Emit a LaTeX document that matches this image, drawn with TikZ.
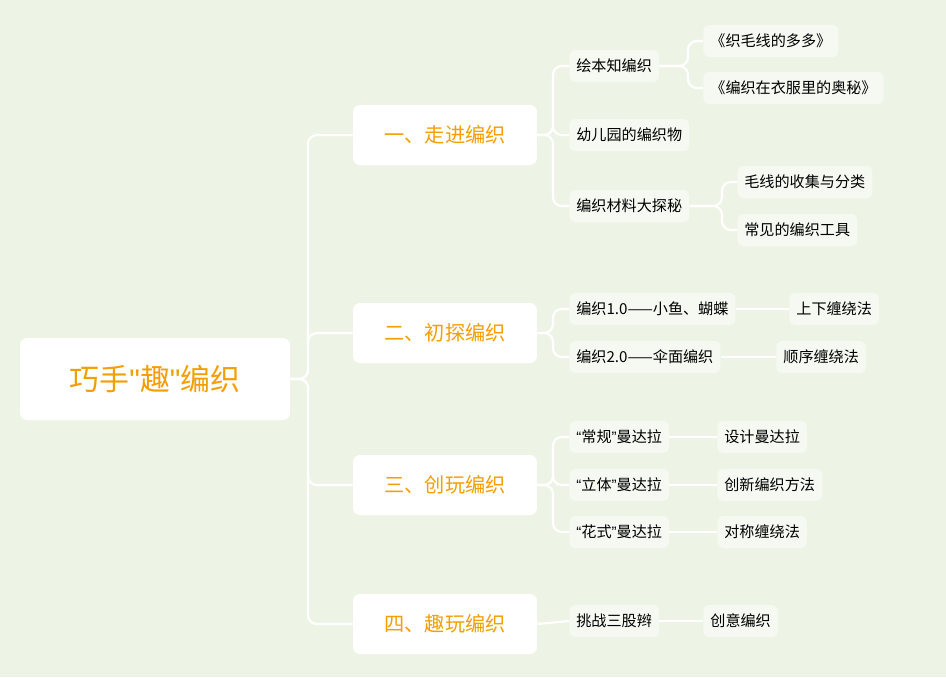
\documentclass[tikz,border=0pt]{standalone}
\usepackage{fontspec}
\setmainfont{Noto Sans CJK SC}
\newfontfamily\latinfont{Liberation Sans}
\usetikzlibrary{positioning}
\definecolor{bgGreen}{HTML}{EDF4E6}
\definecolor{boxGreen}{HTML}{F5F9F1}
\definecolor{titleOrange}{HTML}{F59E00}
\newcommand{\openq}{{\latinfont “}}
\newcommand{\closeq}{{\latinfont ”}}

\begin{document}
\begin{tikzpicture}[
    x=0.02cm, y=-0.02cm,
    root/.style={fill=white, rounded corners=4pt, minimum width=5.4cm, minimum height=1.64cm,
        text=titleOrange, font=\fontsize{17}{20}\selectfont},
    topic/.style={fill=white, rounded corners=4pt, minimum width=3.68cm, minimum height=1.2cm,
        text=titleOrange, font=\fontsize{11.5}{14}\selectfont},
    leaf/.style={fill=boxGreen, rounded corners=3pt, minimum height=0.64cm, inner xsep=4pt,
        anchor=west, font=\fontsize{8.6}{10}\selectfont},
    link/.style={draw=white, line width=1.2pt, rounded corners=5pt}
]
\fill[bgGreen] (0,0) rectangle (946,677);

% root and main branches
\node[root] (root) at (155,379) {巧手{\latinfont"}趣{\latinfont"}编织};
\node[topic] (walk) at (445,135) {一、走进编织};
\node[topic] (probe) at (445,333) {二、初探编织};
\node[topic] (play) at (445,485) {三、创玩编织};
\node[topic] (fun) at (445,624) {四、趣玩编织};

% second level
\node[leaf] (book) at (569,66) {绘本知编织};
\node[leaf] (kinder) at (569,135) {幼儿园的编织物};
\node[leaf] (material) at (569,206) {编织材料大探秘};
\node[leaf] (fish) at (569,309) {编织1.0——小鱼、蝴蝶};
\node[leaf] (umbrella) at (569,357) {编织2.0——伞面编织};
\node[leaf] (normal) at (569,437) {\openq 常规\closeq 曼达拉};
\node[leaf] (solid) at (569,485) {\openq 立体\closeq 曼达拉};
\node[leaf] (fancy) at (569,532) {\openq 花式\closeq 曼达拉};
\node[leaf] (braid) at (569,621) {挑战三股辫};

% third level
\node[leaf] (duoduo) at (703,41) {《织毛线的多多》};
\node[leaf] (secret) at (703,88) {《编织在衣服里的奥秘》};
\node[leaf] (collect) at (737,182) {毛线的收集与分类};
\node[leaf] (tools) at (737,230) {常见的编织工具};
\node[leaf] (updown) at (789,309) {上下缠绕法};
\node[leaf] (order) at (776,357) {顺序缠绕法};
\node[leaf] (design) at (717,437) {设计曼达拉};
\node[leaf] (newway) at (717,485) {创新编织方法};
\node[leaf] (sym) at (717,532) {对称缠绕法};
\node[leaf] (idea) at (703,621) {创意编织};

% connectors
\foreach \t in {walk,probe,play,fun}
    \draw[link] (root.east) -- (308,379) |- (\t.west);
\foreach \t in {book,kinder,material}
    \draw[link] (walk.east) -- (553,135) |- (\t.west);
\foreach \t in {fish,umbrella}
    \draw[link] (probe.east) -- (553,333) |- (\t.west);
\foreach \t in {normal,solid,fancy}
    \draw[link] (play.east) -- (553,485) |- (\t.west);
\draw[link] (fun.east) -- (braid.west);
\foreach \t in {duoduo,secret}
    \draw[link] (book.east) -- (688,66) |- (\t.west);
\foreach \t in {collect,tools}
    \draw[link] (material.east) -- (722,206) |- (\t.west);
\draw[link] (fish) -- (updown);
\draw[link] (umbrella) -- (order);
\draw[link] (normal) -- (design);
\draw[link] (solid) -- (newway);
\draw[link] (fancy) -- (sym);
\draw[link] (braid) -- (idea);
\end{tikzpicture}
\end{document}
